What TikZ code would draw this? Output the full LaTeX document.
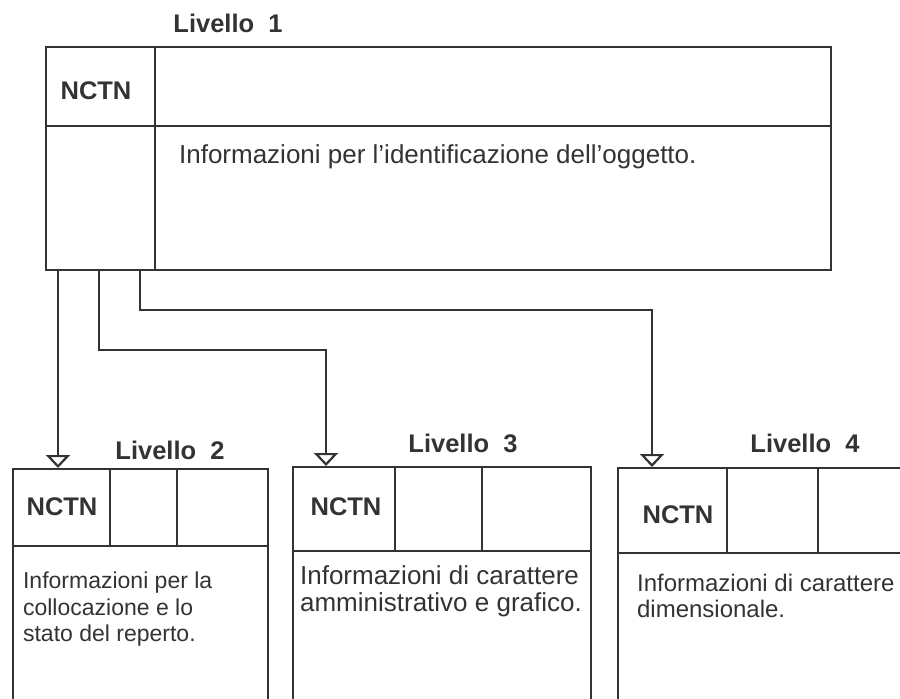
\documentclass[tikz,border=0pt]{standalone}
\usepackage{fontspec}
\setmainfont{Liberation Sans}
\usetikzlibrary{arrows.meta}

\begin{document}
\begin{tikzpicture}[x=1pt, y=-1pt, line width=2.2pt, color=black!80,
  box/.style = {draw, rectangle, inner sep=0pt, anchor=north west},
  head/.style = {font=\fontsize{25.5}{30}\selectfont\bfseries},
  txt/.style = {font=\fontsize{24}{26.5}\selectfont, align=left, inner sep=0pt},
  link/.style = {-{Triangle[open, width=24pt, length=13pt]}}]
\useasboundingbox (0,0) rectangle (900,699);
\clip (0,0) rectangle (900,699);
\node[box, minimum width=785pt, minimum height=223pt] (L1) at (45,46) {};
\draw (155,46) -- (155,269) (45,126) -- (830,126);
\node[box, minimum width=255pt, minimum height=250pt] (L2) at (12,468) {};
\draw (12,546) -- (267,546) (110,468) -- (110,546) (177,468) -- (177,546);
\node[box, minimum width=298pt, minimum height=250pt] (L3) at (292,466) {};
\draw (292,551) -- (590,551) (395,466) -- (395,551) (482,466) -- (482,551);
\node[box, minimum width=300pt, minimum height=250pt] (L4) at (617,467) {};
\draw (617,553) -- (917,553) (727,467) -- (727,553) (818,467) -- (818,553);
\node[head] (t1) at (228,23) {Livello\ \ 1};
\node[head] (t2) at (170,450) {Livello\ \ 2};
\node[head] (t3) at (463,443) {Livello\ \ 3};
\node[head] (t4) at (805,443) {Livello\ \ 4};
\node[head] (n1) at (96,91) {NCTN};
\node[head] (n2) at (62,507) {NCTN};
\node[head] (n3) at (346,507) {NCTN};
\node[head] (n4) at (678,515) {NCTN};
\node[txt, anchor=west, font=\fontsize{26}{30}\selectfont] (d1) at (178,157) {Informazioni per l'identificazione dell'oggetto.};
\node[txt, anchor=north west, font=\fontsize{23}{26.5}\selectfont] (d2) at (22,571) {Informazioni per la\\collocazione e lo\\stato del reperto.};
\node[txt, anchor=north west, font=\fontsize{26}{27}\selectfont] (d3) at (299,565) {Informazioni di carattere\\amministrativo e grafico.};
\node[txt, anchor=north west] (d4) at (636,573) {Informazioni di carattere\\dimensionale.};
\draw[link] ([xshift=13pt]L1.south west) -- ([xshift=46pt]L2.north west);
\draw[link] ([xshift=54pt]L1.south west) -- ++(0,79) -| ([xshift=34pt]L3.north west);
\draw[link] ([xshift=95pt]L1.south west) -- ++(0,39) -| ([xshift=35pt]L4.north west);
\end{tikzpicture}
\end{document}
